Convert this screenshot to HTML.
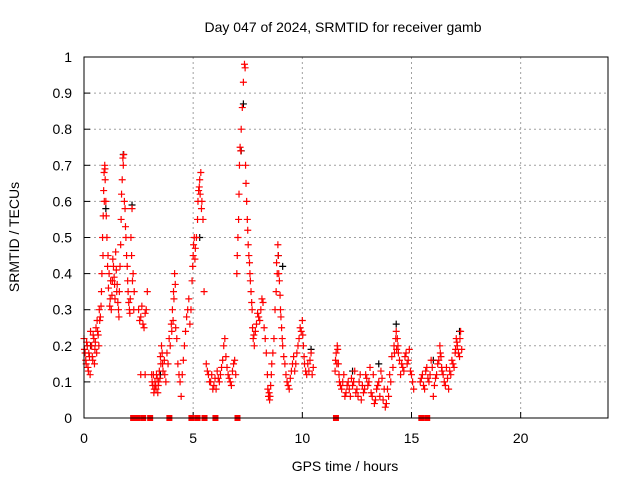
<!DOCTYPE html>
<html><head><meta charset="utf-8"><style>
body{margin:0;background:#fff}
svg{display:block;font-family:"Liberation Sans",sans-serif}
</style></head><body>
<svg id="chart" width="640" height="480" viewBox="0 0 640 480" xmlns="http://www.w3.org/2000/svg">
<rect width="640" height="480" fill="#fff"/>
<text x="343" y="32" font-size="14" text-anchor="middle">Day 047 of 2024, SRMTID for receiver gamb</text>
<text transform="translate(19,237) rotate(-90)" font-size="14" text-anchor="middle">SRMTID / TECUs</text>
<text x="345" y="471" font-size="14" text-anchor="middle">GPS time / hours</text>
<g id="grid"></g><g id="ticks"></g><g id="marks"></g>
<rect x="84" y="57" width="524" height="361" fill="none" stroke="#000" stroke-width="1"/>
</svg>
<script>
const xTicks=[0,5,10,15,20];
const yTicks=[0,0.1,0.2,0.3,0.4,0.5,0.6,0.7,0.8,0.9,1];
const yTickLabels=["0","0.1","0.2","0.3","0.4","0.5","0.6","0.7","0.8","0.9","1"];
const redT=[0,0.05,0.1,0.15,0.2,0.25,0.3,0.35,0.4,0.45,0.5,0.55,0.6,0.65,0.7,0.75,0.8,0.82,0.85,0.88,0.9,0.92,0.95,0.97,1.0,1.02,1.05,1.1,1.15,1.2,1.25,1.3,1.35,1.4,1.45,1.5,1.55,1.6,1.65,1.7,1.75,1.78,1.8,1.85,1.9,1.95,2.0,2.05,2.1,2.15,2.2,2.25,2.3,2.5,2.6,2.7,2.8,2.9,2.6,2.8,3.1,3.15,3.2,3.25,3.3,3.35,3.4,3.45,3.5,3.55,3.6,3.7,3.8,3.9,4.0,4.05,4.1,4.15,4.2,4.3,4.4,4.45,4.5,4.6,4.7,4.8,4.9,4.95,5.0,5.05,5.1,5.2,5.25,5.3,5.35,5.4,5.45,5.5,5.6,5.7,5.8,5.9,6.0,6.1,6.2,6.3,6.4,6.5,6.6,6.7,6.8,6.9,7.0,7.05,7.1,7.15,7.2,7.25,7.3,7.35,7.38,7.4,7.45,7.5,7.55,7.6,7.65,7.7,7.75,7.8,7.9,8.0,8.1,8.2,8.3,8.4,8.45,8.5,8.55,8.6,8.7,8.8,8.85,8.9,8.95,9.0,9.05,9.1,9.2,9.3,9.4,9.5,9.6,9.7,9.8,9.9,10.0,10.05,10.1,10.2,10.3,10.4,10.5,11.5,11.55,11.6,11.65,11.7,11.8,11.9,12.0,12.1,12.2,12.3,12.4,12.5,12.6,12.7,12.8,12.9,13.0,13.1,13.2,13.3,13.4,13.5,13.6,13.7,13.8,13.9,14.0,14.1,14.2,14.3,14.35,14.4,14.5,14.6,14.7,14.8,14.9,15.0,15.1,15.4,15.5,15.6,15.7,15.8,15.9,16.0,16.1,16.2,16.3,16.35,16.4,16.5,16.6,16.7,16.8,16.9,17.0,17.05,17.1,17.2,17.25,17.3];
const redV=[0.22,0.18,0.15,0.2,0.13,0.17,0.24,0.2,0.16,0.22,0.19,0.25,0.27,0.23,0.3,0.28,0.35,0.4,0.5,0.56,0.63,0.68,0.7,0.66,0.6,0.56,0.5,0.45,0.4,0.33,0.3,0.38,0.42,0.37,0.46,0.35,0.32,0.28,0.42,0.55,0.66,0.72,0.7,0.6,0.53,0.45,0.38,0.32,0.29,0.5,0.58,0.4,0.35,0.3,0.28,0.26,0.29,0.35,0.12,0.12,0.12,0.09,0.07,0.1,0.08,0.11,0.09,0.13,0.17,0.2,0.15,0.12,0.18,0.22,0.26,0.3,0.35,0.4,0.25,0.15,0.1,0.06,0.12,0.2,0.28,0.33,0.3,0.38,0.45,0.5,0.47,0.55,0.63,0.66,0.68,0.6,0.55,0.35,0.15,0.12,0.1,0.08,0.11,0.13,0.1,0.14,0.2,0.17,0.12,0.1,0.13,0.16,0.4,0.5,0.62,0.75,0.8,0.86,0.93,0.98,0.97,0.7,0.6,0.52,0.45,0.4,0.35,0.3,0.22,0.2,0.26,0.28,0.3,0.32,0.22,0.12,0.06,0.05,0.09,0.15,0.22,0.35,0.4,0.45,0.38,0.3,0.25,0.2,0.15,0.1,0.08,0.13,0.17,0.15,0.2,0.25,0.27,0.2,0.15,0.12,0.13,0.18,0.14,0.13,0.18,0.2,0.15,0.1,0.08,0.12,0.07,0.1,0.06,0.09,0.13,0.08,0.1,0.05,0.07,0.12,0.09,0.14,0.06,0.04,0.08,0.1,0.13,0.05,0.03,0.08,0.12,0.17,0.2,0.24,0.22,0.18,0.12,0.14,0.17,0.15,0.19,0.12,0.08,0.1,0.12,0.08,0.14,0.1,0.16,0.06,0.11,0.15,0.2,0.17,0.13,0.1,0.14,0.08,0.12,0.15,0.18,0.22,0.2,0.17,0.24,0.19];
const redT2=[0.02,0.08,0.12,0.18,0.22,0.28,0.32,0.38,0.42,0.48,0.52,0.58,0.62,0.68,0.72,0.78,0.87,0.93,0.96,1.08,1.12,1.18,1.22,1.28,1.32,1.38,1.42,1.48,1.52,1.58,1.62,1.68,1.72,1.82,1.88,1.92,1.98,2.02,2.08,2.12,2.18,2.22,2.28,2.55,2.65,2.75,2.85,3.12,3.18,3.22,3.28,3.32,3.38,3.42,3.48,3.52,3.58,3.62,3.68,3.75,3.85,3.95,4.02,4.08,4.12,4.18,4.25,4.35,4.55,4.65,4.75,4.85,4.98,5.02,5.08,5.15,5.22,5.28,5.32,5.38,5.65,5.75,5.85,5.95,6.05,6.15,6.25,6.35,6.45,6.55,6.65,6.75,6.85,6.95,7.02,7.08,7.12,7.18,7.42,7.48,7.52,7.58,7.62,7.68,7.72,7.78,7.85,7.95,8.05,8.15,8.25,8.35,8.42,8.48,8.52,8.58,8.65,8.75,8.82,8.88,8.92,8.98,9.02,9.08,9.15,9.25,9.35,9.45,9.55,9.65,9.75,9.85,9.95,10.02,10.08,10.15,10.25,10.35,10.45,11.52,11.58,11.62,11.68,11.75,11.85,11.95,12.05,12.15,12.25,12.35,12.45,12.55,12.65,12.75,12.85,12.95,13.05,13.15,13.25,13.35,13.45,13.55,13.65,13.75,13.85,13.95,14.05,14.15,14.22,14.28,14.32,14.38,14.45,14.55,14.65,14.75,14.85,14.95,15.05,15.45,15.55,15.65,15.75,15.85,15.95,16.05,16.15,16.25,16.32,16.38,16.45,16.55,16.65,16.75,16.85,16.95,17.02,17.08,17.15,17.22,17.28];
const redV2=[0.19,0.16,0.21,0.14,0.18,0.12,0.2,0.17,0.23,0.15,0.21,0.18,0.24,0.2,0.27,0.31,0.45,0.6,0.69,0.42,0.36,0.31,0.38,0.34,0.44,0.39,0.33,0.41,0.37,0.3,0.35,0.48,0.62,0.73,0.58,0.5,0.42,0.35,0.3,0.33,0.45,0.38,0.3,0.27,0.31,0.25,0.3,0.1,0.12,0.08,0.09,0.12,0.07,0.1,0.11,0.15,0.18,0.13,0.16,0.1,0.15,0.2,0.24,0.27,0.33,0.37,0.22,0.12,0.16,0.24,0.3,0.26,0.42,0.48,0.44,0.5,0.6,0.64,0.62,0.58,0.13,0.1,0.12,0.09,0.08,0.11,0.12,0.16,0.22,0.14,0.11,0.09,0.15,0.12,0.45,0.55,0.7,0.74,0.65,0.55,0.48,0.43,0.38,0.32,0.25,0.23,0.24,0.29,0.27,0.33,0.25,0.18,0.08,0.07,0.06,0.12,0.18,0.3,0.43,0.48,0.4,0.34,0.28,0.22,0.17,0.12,0.09,0.11,0.15,0.13,0.18,0.22,0.24,0.23,0.17,0.13,0.15,0.16,0.12,0.16,0.15,0.19,0.12,0.09,0.1,0.06,0.09,0.08,0.11,0.1,0.07,0.06,0.12,0.09,0.08,0.11,0.1,0.07,0.12,0.05,0.09,0.06,0.11,0.08,0.04,0.06,0.1,0.14,0.18,0.22,0.19,0.2,0.16,0.15,0.13,0.18,0.16,0.13,0.1,0.11,0.09,0.13,0.11,0.12,0.14,0.09,0.12,0.16,0.18,0.14,0.12,0.09,0.11,0.13,0.16,0.14,0.19,0.21,0.18,0.22];
const blackT=[0.3,1.0,1.8,2.2,3.5,5.3,7.2,7.3,8.9,9.1,10.4,12.3,13.5,14.3,16.0,17.2];
const blackV=[0.2,0.58,0.73,0.59,0.12,0.5,0.74,0.87,0.45,0.42,0.19,0.13,0.15,0.26,0.16,0.24];
const zeroT=[2.25,2.44,2.71,3.03,3.91,4.92,5.2,5.52,6.02,7.03,11.54,15.45,15.72];
const NS="http://www.w3.org/2000/svg";
const X=h=>84+h*524/24, Y=v=>418-v*361;
const grid=document.getElementById('grid'),ticks=document.getElementById('ticks'),marks=document.getElementById('marks');
function mk(tag,at,p){const e=document.createElementNS(NS,tag);for(const k in at)e.setAttribute(k,at[k]);p.appendChild(e);return e;}
xTicks.forEach(t=>{const x=X(t);
 if(t>0){const g=mk('line',{x1:x,y1:57,x2:x,y2:418,stroke:'#a0a0a0','stroke-dasharray':'2,3'},grid);
 
 }
 const l=mk('text',{x:x,y:443,'font-size':14,'text-anchor':'middle'},ticks);l.textContent=t;
 
 
 mk('line',{x1:x,y1:418,x2:x,y2:412,stroke:'#000'},ticks);
});
yTicks.forEach((t,i)=>{const y=Y(t);
 if(t>0&&t<1){const g=mk('line',{x1:84,y1:y,x2:608,y2:y,stroke:'#a0a0a0','stroke-dasharray':'2,3'},grid);
 
 }
 const l=mk('text',{x:72,y:y+5,'font-size':14,'text-anchor':'end'},ticks);l.textContent=yTickLabels[i];
 
 
 mk('line',{x1:84,y1:y,x2:90,y2:y,stroke:'#000'},ticks);
});
function cross(h,v,c,name){const x=X(h),y=Y(v);
 const p=mk('path',{d:`M${x-3.5},${y}H${x+3.5}M${x},${y-3.5}V${y+3.5}`,stroke:c,'stroke-width':1.2,fill:'none'},marks);
 
 }
blackT.forEach((t,i)=>cross(t,blackV[i],'#000','black-point'));
redT.forEach((t,i)=>cross(t,redV[i],'#ff0000','red-point'));
redT2.forEach((t,i)=>cross(t,redV2[i],'#ff0000','red-point'));
zeroT.forEach(t=>{const r=mk('rect',{x:X(t)-3,y:415,width:6,height:6,fill:'#ff0000'},marks);
 
 });
</script>
</body></html>
